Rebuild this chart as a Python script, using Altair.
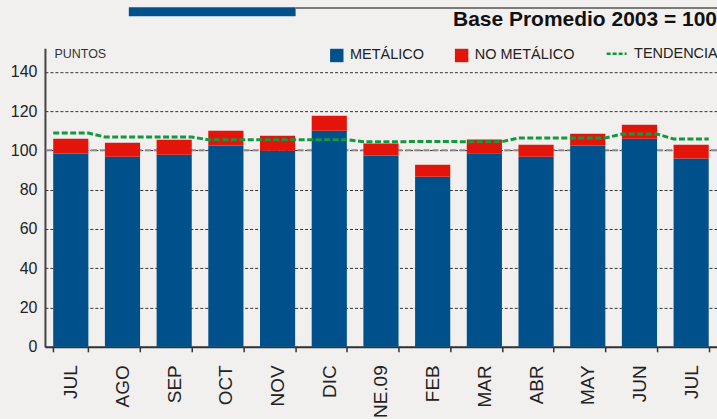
import json
import altair as alt
import pandas as pd

# ---------------- data ----------------
meses = ["JUL", "AGO", "SEP", "OCT", "NOV", "DIC", "ENE.09", "FEB", "MAR", "ABR", "MAY", "JUN", "JUL"]
metalico = [98.4, 96.8, 97.8, 102.5, 99.8, 110.0, 97.4, 86.6, 98.5, 96.8, 102.5, 105.9, 95.8]
no_metalico = [7.5, 7.1, 7.6, 7.5, 7.7, 7.6, 6.1, 6.1, 7.0, 6.1, 6.0, 7.2, 7.1]
tendencia = [108.8, 106.8, 106.8, 105.4, 105.4, 105.4, 104.4, 104.5, 104.4, 106.3, 106.3, 108.3, 105.8]
series = ["METÁLICO", "NO METÁLICO"]
serie_linea = "TENDENCIA"
y_ticks = [0, 20, 40, 60, 80, 100, 120, 140]
base = 100
titulo = "Base Promedio 2003 = 100"
unidad = "PUNTOS"

# ---------------- style ----------------
BLUE = "#00508c"
RED = "#e3140a"
GREEN = "#12993e"
BG = "#f1f0ef"
FONT = "Liberation Sans"
W, H = 673, 299
PAD_IN = 0.32

rows = []
for i in range(len(meses)):
    rows.append({"i": i, "serie": series[0], "valor": metalico[i], "orden": 0})
    rows.append({"i": i, "serie": series[1], "valor": no_metalico[i], "orden": 1})
bars_df = pd.DataFrame(rows)

half = (1 - PAD_IN) / 2
line_rows = []
for i, v in enumerate(tendencia):
    line_rows.append({"pos": i + 0.5 - half, "valor": v, "serie": serie_linea})
    line_rows.append({"pos": i + 0.5 + half, "valor": v, "serie": serie_linea})
line_df = pd.DataFrame(line_rows)

label_expr = json.dumps(meses) + "[datum.value]"

y_scale = alt.Scale(domain=[0, 152], nice=False)

base_rule = alt.Chart(pd.DataFrame({"valor": [base]})).mark_rule(
    color="#8a8a8a", strokeWidth=2, strokeDash=[6, 3]
).encode(y=alt.Y("valor:Q", scale=y_scale))

bars = alt.Chart(bars_df).mark_bar().encode(
    x=alt.X(
        "i:O",
        scale=alt.Scale(paddingInner=PAD_IN, paddingOuter=PAD_IN / 2),
        axis=alt.Axis(
            title=None, labelExpr=label_expr, labelAngle=-90,
            labelFont=FONT, labelFontSize=19, labelColor="#222",
            labelPadding=13, tickBand="extent", tickSize=5, tickWidth=1.5,
            tickColor="#333", domainColor="#333", domainWidth=2, grid=False,
        ),
    ),
    y=alt.Y(
        "valor:Q", stack="zero", scale=y_scale,
        axis=alt.Axis(
            values=y_ticks, title=unidad, titleAngle=0, titleAlign="left",
            titleBaseline="middle", titleX=9, titleY=5, titleFont=FONT,
            titleFontSize=12.5, titleFontWeight="normal", titleColor="#333",
            labelFont=FONT, labelFontSize=16, labelColor="#222", labelPadding=8,
            ticks=False, domainColor="#444", domainWidth=2,
            grid=True, gridColor="#333", gridDash=[3, 2], gridWidth=1,
        ),
    ),
    color=alt.Color(
        "serie:N", scale=alt.Scale(domain=series, range=[BLUE, RED]),
        legend=alt.Legend(
            orient="none", legendX=285, legendY=0, direction="horizontal",
            title=None, symbolType="square", symbolSize=180, symbolStrokeWidth=0,
            labelFont=FONT, labelFontSize=14.5, labelColor="#222",
            columnPadding=30, labelOffset=6, padding=0,
        ),
    ),
    order=alt.Order("orden:Q"),
)

line = alt.Chart(line_df).mark_line(strokeWidth=3, strokeDash=[6, 2.5]).encode(
    x=alt.X("pos:Q", scale=alt.Scale(domain=[0, len(meses)], nice=False, zero=False), axis=None),
    y=alt.Y("valor:Q", scale=y_scale),
    stroke=alt.Stroke(
        "serie:N", scale=alt.Scale(domain=[serie_linea], range=[GREEN]),
        legend=alt.Legend(
            orient="none", legendX=561, legendY=-6, title=None,
            symbolType="stroke", symbolSize=400, symbolStrokeWidth=2.5,
            symbolDash=[4, 2], labelFont=FONT, labelFontSize=14.5,
            labelColor="#222", labelOffset=6, padding=0,
        ),
    ),
)

one = pd.DataFrame({"t": [titulo]})
title_text = alt.Chart(one).mark_text(
    font=FONT, fontSize=21, fontWeight="bold", color="#111", align="right",
    baseline="alphabetic",
).encode(text="t:N", x=alt.value(W), y=alt.value(-22.5))

blue_band = alt.Chart(one).mark_rule(color=BLUE, strokeWidth=9).encode(
    x=alt.value(84), x2=alt.value(251), y=alt.value(-36.5)
)
grey_line = alt.Chart(one).mark_rule(color="#555", strokeWidth=1.5).encode(
    x=alt.value(251), x2=alt.value(W), y=alt.value(-40.3)
)

chart = alt.layer(base_rule, bars, line, title_text, blue_band, grey_line).resolve_scale(
    x="independent"
).properties(
    width=W, height=H,
    autosize=alt.AutoSizeParams(type="none"),
    padding={"left": 45, "top": 48, "right": 0, "bottom": 72},
    background=BG,
).configure_view(stroke=None)

chart.save("out.html", embed_options={"renderer": "svg", "actions": False})
